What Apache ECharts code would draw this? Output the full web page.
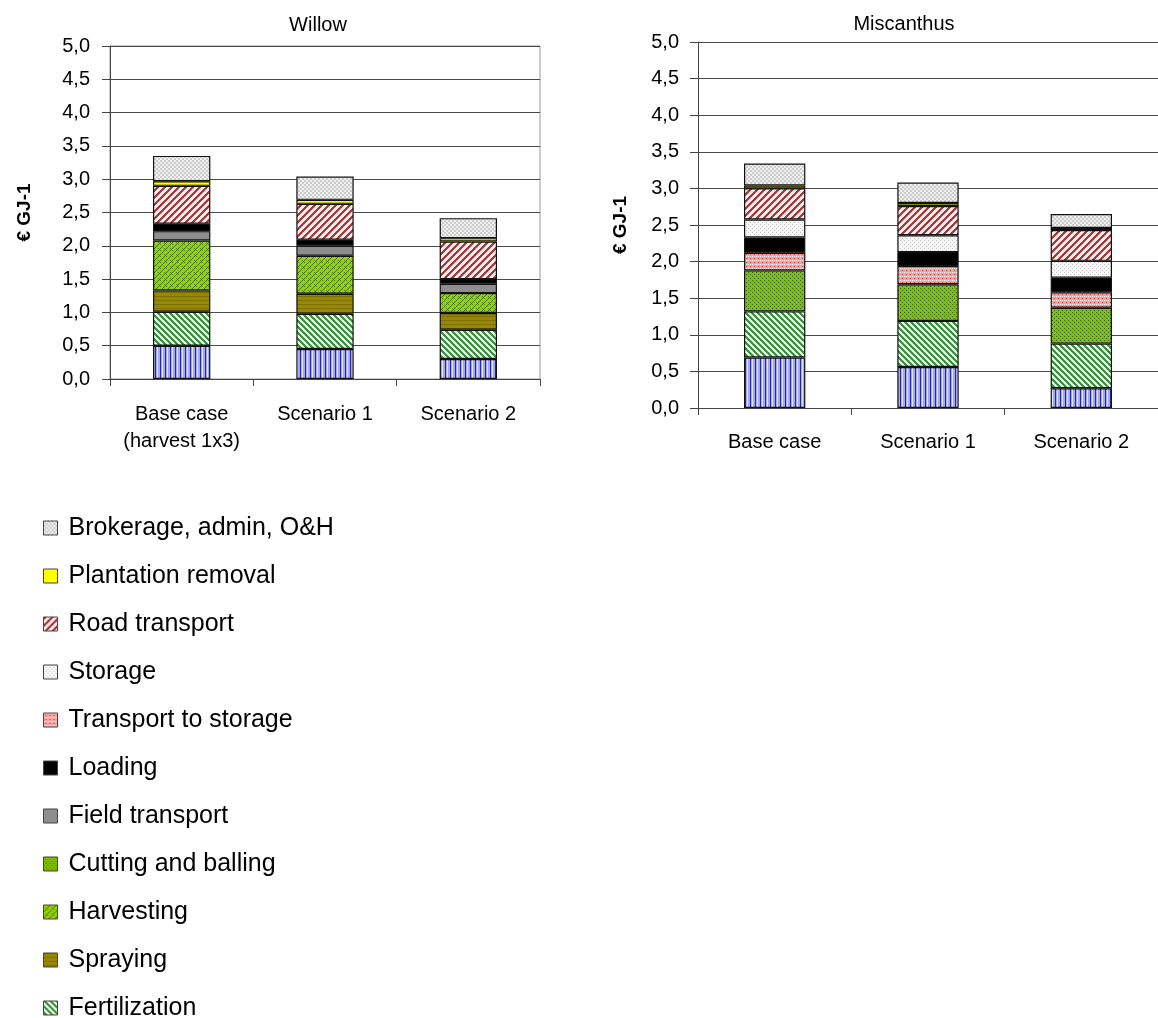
<!DOCTYPE html>
<html>
<head>
<meta charset="utf-8">
<script src="https://cdn.jsdelivr.net/npm/echarts@6/dist/echarts.min.js"></script>
<style>
  html, body { margin: 0; padding: 0; background: #ffffff; }
  #chart { width: 1158px; height: 1018px; }
</style>
</head>
<body>
<div id="chart"></div>
<script>
// Cost components (€ per GJ), listed bottom-to-top of each stacked bar
const categoriesWillow = ['Base case\n(harvest 1x3)', 'Scenario 1', 'Scenario 2'];
const categoriesMiscanthus = ['Base case', 'Scenario 1', 'Scenario 2'];

const establishmentWillow      = [0.50, 0.45, 0.30];
const fertilizationWillow      = [0.51, 0.53, 0.44];
const sprayingWillow           = [0.32, 0.30, 0.25];
const harvestingWillow         = [0.75, 0.57, 0.30];
const cuttingBallingWillow     = [null, null, null];
const fieldTransportWillow     = [0.14, 0.15, 0.14];
const transportStorageWillow   = [null, null, null];
const loadingWillow            = [0.11, 0.09, 0.07];
const storageWillow            = [null, null, null];
const roadTransportWillow      = [0.57, 0.54, 0.565];
const plantationRemovalWillow  = [0.07, 0.06, 0.05];
const brokerageWillow          = [0.38, 0.35, 0.30];

const establishmentMiscanthus     = [0.69, 0.56, 0.27];
const fertilizationMiscanthus     = [0.63, 0.63, 0.61];
const sprayingMiscanthus          = [null, null, null];
const harvestingMiscanthus        = [null, null, null];
const cuttingBallingMiscanthus    = [0.56, 0.50, 0.49];
const fieldTransportMiscanthus    = [null, null, null];
const transportStorageMiscanthus  = [0.24, 0.25, 0.21];
const loadingMiscanthus           = [0.21, 0.19, 0.20];
const storageMiscanthus           = [0.245, 0.23, 0.23];
const roadTransportMiscanthus     = [0.425, 0.40, 0.42];
const plantationRemovalMiscanthus = [0.04, 0.04, 0.03];
const brokerageMiscanthus         = [0.30, 0.28, 0.19];

// Stacking order (bottom first)
const componentNames = [
  'Establishment', 'Fertilization', 'Spraying', 'Harvesting', 'Cutting and balling',
  'Field transport', 'Transport to storage', 'Loading', 'Storage', 'Road transport',
  'Plantation removal', 'Brokerage, admin, O&H'
];
const willowValues = [
  establishmentWillow, fertilizationWillow, sprayingWillow, harvestingWillow, cuttingBallingWillow,
  fieldTransportWillow, transportStorageWillow, loadingWillow, storageWillow, roadTransportWillow,
  plantationRemovalWillow, brokerageWillow
];
const miscanthusValues = [
  establishmentMiscanthus, fertilizationMiscanthus, sprayingMiscanthus, harvestingMiscanthus, cuttingBallingMiscanthus,
  fieldTransportMiscanthus, transportStorageMiscanthus, loadingMiscanthus, storageMiscanthus, roadTransportMiscanthus,
  plantationRemovalMiscanthus, brokerageMiscanthus
];

// Legend entries, top to bottom
const legendNames = [
  'Brokerage, admin, O&H', 'Plantation removal', 'Road transport', 'Storage',
  'Transport to storage', 'Loading', 'Field transport', 'Cutting and balling',
  'Harvesting', 'Spraying', 'Fertilization'
];

// Small repeating fill tiles, painted pixel by pixel
function tile(w, h, paint) {
  const c = document.createElement('canvas');
  c.width = w; c.height = h;
  const ctx = c.getContext('2d');
  for (let y = 0; y < h; y++) {
    for (let x = 0; x < w; x++) {
      ctx.fillStyle = paint(x, y);
      ctx.fillRect(x, y, 1, 1);
    }
  }
  return { image: c, repeat: 'repeat' };
}

const fills = {
  'Establishment': tile(5, 1, x => x === 0 ? '#272c98' : (x === 2 ? '#e2e4fb' : '#a3a8ec')),
  'Fertilization': tile(6, 6, (x, y) => ((x - y + 60) % 6) < 3 ? '#3a9140' : '#eefaea'),
  'Spraying': tile(1, 4, (x, y) => y === 0 ? '#7d7000' : '#978800'),
  'Harvesting': tile(6, 6, (x, y) => ((x + y) % 6 === 0) ? '#3d6e00' : ((((x - y + 12) % 6 === 0) && x % 2 === 0) ? '#4f8400' : '#97d300')),
  'Cutting and balling': tile(4, 4, (x, y) => ((x === 0 && y === 0) || (x === 2 && y === 2)) ? '#2e5e00' : '#80c000'),
  'Field transport': '#8e8e8e',
  'Transport to storage': tile(4, 4, (x, y) => (x === 0 && y === 0) ? '#ffffff' : ((x === 2 && y === 2) ? '#d43c3c' : ((x === 2 && y === 0) ? '#fde4e4' : '#f3a2a2'))),
  'Loading': '#000000',
  'Storage': tile(4, 4, (x, y) => ((x === 0 && y === 0) || (x === 2 && y === 2)) ? '#c4c4c4' : '#f6f6f6'),
  'Road transport': tile(7, 7, (x, y) => ((x + y) % 7) < 3 ? '#a03c3c' : '#fce8e8'),
  'Plantation removal': '#ffff00',
  'Brokerage, admin, O&H': tile(4, 4, (x, y) => (((x >> 1) + (y >> 1)) % 2 === 0) ? '#cccccc' : '#f0f0f0')
};

const FONT = 'Liberation Sans, Arial, sans-serif';

function makeSeries(values, idx, stack) {
  return componentNames.map((name, i) => ({
    name: name,
    type: 'bar',
    stack: stack,
    xAxisIndex: idx,
    yAxisIndex: idx,
    barWidth: '40%',
    data: values[i],
    itemStyle: { color: fills[name], borderColor: '#111111', borderWidth: 1.2 },
    emphasis: { disabled: true },
    animation: false
  }));
}

function valueAxis(gridIndex, nameGap, labelMargin) {
  return {
    type: 'value', gridIndex: gridIndex, min: 0, max: 5, interval: 0.5,
    name: '€ GJ-1', nameLocation: 'middle', nameRotate: 90, nameGap: nameGap,
    nameTextStyle: { fontFamily: FONT, fontSize: 19, fontWeight: 'bold', color: '#000' },
    axisLine: { show: true, lineStyle: { color: '#444', width: 1 } },
    axisTick: { show: true, length: 8, lineStyle: { color: '#444' } },
    splitLine: { show: true, lineStyle: { color: '#4a4a4a', width: 1 } },
    axisLabel: {
      margin: labelMargin, fontFamily: FONT, fontSize: 20, color: '#000',
      formatter: v => v.toFixed(1).replace('.', ',')
    }
  };
}

function categoryAxis(gridIndex, data, margin) {
  return {
    type: 'category', gridIndex: gridIndex, data: data,
    axisLine: { show: true, lineStyle: { color: '#444', width: 1 } },
    axisTick: { show: true, length: 7, alignWithLabel: false, lineStyle: { color: '#444' } },
    axisLabel: { interval: 0, margin: margin, fontFamily: FONT, fontSize: 20, lineHeight: 27, color: '#000' }
  };
}

const chart = echarts.init(document.getElementById('chart'), null, { renderer: 'canvas' });
chart.setOption({
  animation: false,
  backgroundColor: '#ffffff',
  graphic: [
    { type: 'text', x: 318, y: 25, style: { text: 'Willow', font: '20px ' + FONT, fill: '#000', align: 'center', verticalAlign: 'middle' } },
    { type: 'text', x: 904, y: 24, style: { text: 'Miscanthus', font: '20px ' + FONT, fill: '#000', align: 'center', verticalAlign: 'middle' } }
  ],
  grid: [
    { left: 110, top: 46, width: 430, height: 333, show: true, borderColor: '#999', borderWidth: 1, backgroundColor: 'transparent' },
    { left: 698, top: 42, right: -5, height: 366 }
  ],
  xAxis: [
    categoryAxis(0, categoriesWillow, 22),
    categoryAxis(1, categoriesMiscanthus, 21)
  ],
  yAxis: [
    valueAxis(0, 76, 20),
    valueAxis(1, 68, 19)
  ],
  legend: {
    orient: 'vertical',
    left: 43,
    top: 515,
    height: 700,
    padding: 0,
    data: legendNames,
    icon: 'rect',
    itemWidth: 14,
    itemHeight: 14,
    itemGap: 22,
    selectedMode: false,
    itemStyle: { borderColor: '#444', borderWidth: 1 },
    textStyle: { fontFamily: FONT, fontSize: 25, lineHeight: 26, color: '#000', padding: [0, 0, 0, 6] }
  },
  series: [].concat(
    makeSeries(willowValues, 0, 'willow'),
    makeSeries(miscanthusValues, 1, 'miscanthus')
  )
});
</script>
</body>
</html>
